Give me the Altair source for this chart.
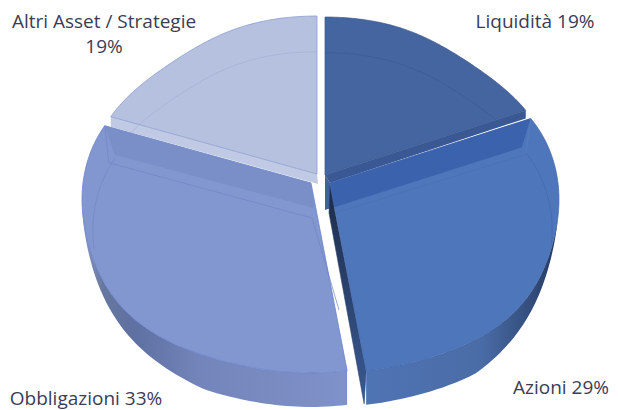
import math
import altair as alt
import pandas as pd

categories = ["Liquidità", "Azioni", "Obbligazioni", "Altri Asset / Strategie"]
shares = [18.6, 29.1, 32.9, 19.4]

# view geometry (derived drawing settings, not chart values)
RX, RY, P = 228.0, 172.5, 0.092
APEX = {"Liquidità": (325, 175), "Azioni": (330, 183), "Obbligazioni": (311, 183), "Altri Asset / Strategie": (317, 174)}
DEPTH = 34
XS = alt.Scale(domain=[8, 610])
YS = alt.Scale(domain=[410, 8])

bounds = {}
acc = 0.0
for c, s in zip(categories, shares):
    bounds[c] = (acc * 3.6, (acc + s) * 3.6)
    acc += s


def rim(apex, deg, k=1.0, dx=0.0, dy=0.0):
    a = math.radians(deg)
    d = 1 + P * math.cos(a)
    sign = 1 if math.cos(a) > 0 else -1
    m = 1 - 0.033 * sign * math.sin(2 * a) ** 4
    return (apex[0] + m * k * RX * math.sin(a) / d + dx, apex[1] - m * k * RY * math.cos(a) / d + dy)


def arc(apex, a0, a1, k=1.0, dx=0.0, dy=0.0, n=80):
    return [rim(apex, a0 + (a1 - a0) * i / n, k, dx, dy) for i in range(n + 1)]


def side(apex, a0, a1, fade_deg, span, n=80):
    """Outer wall of a wedge: the rim and the same rim lowered, thinning towards fade_deg."""
    angles = [a0 + (a1 - a0) * i / n for i in range(n + 1)]
    upper = [rim(apex, a) for a in angles]
    lower = []
    for a in reversed(angles):
        x, y = rim(apex, a)
        lower.append((x, y + DEPTH * min(1.0, abs(a - fade_deg) / span)))
    return upper + lower


layers = []


def shape(points, fill=None, stroke=None, sw=0.8, opacity=1.0):
    pts = list(points)
    if fill is not None:
        pts = pts + [pts[0]]
    df = pd.DataFrame([{"x": p[0], "y": p[1], "i": i} for i, p in enumerate(pts)])
    kw = {"strokeWidth": sw, "clip": False, "opacity": opacity, "interpolate": "linear"}
    kw["stroke"] = stroke if stroke else "transparent"
    if fill is not None:
        kw["fill"] = fill
    layers.append(
        alt.Chart(df).mark_line(**kw).encode(
            x=alt.X("x:Q", scale=XS, axis=None),
            y=alt.Y("y:Q", scale=YS, axis=None),
            order="i:Q",
        )
    )


def grad(stops, x2=1, y2=0):
    return alt.Gradient(
        gradient="linear", x1=0, y1=0, x2=x2, y2=y2,
        stops=[alt.GradientStop(offset=o, color=c) for o, c in stops],
    )


LQ, AZ, OB, AL = categories

# Altri Asset / Strategie
ap = APEX[AL]
a0, a1 = bounds[AL]
c0 = rim(ap, a0)
shape([ap, c0, (c0[0], c0[1] + 10), (ap[0] + 1, ap[1] + 10)], fill="#c0cae4")
shape([ap] + arc(ap, a0, a1), fill="#b6c1df", stroke="#8d9dd0", sw=0.8)
shape(arc(ap, a0 + 6, a1, 0.97, 0, 31), stroke="#a3b0d6", sw=0.7)

# Liquidità
ap = APEX[LQ]
a0, a1 = bounds[LQ]
c1 = rim(ap, a1)
shape([ap, (ap[0], ap[1] + 35), (ap[0] + 12, ap[1] + 31), (ap[0] + 5, ap[1] + 8)], fill="#41619c")
shape([ap, c1, (c1[0], c1[1] + 8), (ap[0] + 5, ap[1] + 8)], fill="#3a5994")
shape([ap] + arc(ap, a0, a1), fill="#44659f", stroke="#3a5790", sw=0.7)
shape(arc(ap, a0, a1 - 9, 0.97, 0, 31), stroke="#3b5a96", sw=0.7)

# Obbligazioni
ap = APEX[OB]
a0, a1 = bounds[OB]
shape(side(ap, a0, 265, 265, 60),
      fill=grad([(0, "#8b9acb"), (0.08, "#66779f"), (0.2, "#5f70a2"), (0.45, "#7385ba"), (1, "#7f92c9")]))
shape([ap] + arc(ap, a0, a1), fill="#8296d0", stroke="#6a84cb", sw=0.8)
c1 = rim(ap, a1)
shape([c1, ap, (ap[0] + 3, ap[1] + 25), (c1[0] + 10, c1[1] + 29)], fill="#7a8ec8")
shape([(c1[0] + 4, c1[1] + 37), (ap[0] + 1, ap[1] + 35), (ap[0] + 28, ap[1] + 127)], stroke="#7087c6", sw=0.7)
shape(arc(ap, a1, 258, 0.97, 4, 31, n=40), stroke="#7087c6", sw=0.7)
shape([c1, (c1[0] + 4, c1[1] + 37)], stroke="#7087c6", sw=0.7)

# Azioni
ap = APEX[AZ]
a0, a1 = bounds[AZ]
e = rim(ap, a1)
shape([(ap[0], ap[1] + 3), e, (e[0] - 2, e[1] + 33), (ap[0] - 1, ap[1] + 30)],
      fill=grad([(0, "#1d2b4a"), (0.5, "#2c436e"), (1, "#3a5a94")], x2=0, y2=1), stroke="#2c436e", sw=0.6)
shape(side(ap, a1, 100, 100, 45),
      fill=grad([(0, "#4f74b4"), (0.6, "#4a6ca6"), (0.88, "#314a78"), (1, "#25395f")]))
shape([ap] + arc(ap, a0, a1), fill="#4e76bb", stroke="#4468ab", sw=0.7)
c0 = rim(ap, a0)
shape([ap, c0, (c0[0] - 9, c0[1] + 29), (ap[0] + 5, ap[1] + 24)], fill="#3b62ad")
shape([(ap[0] + 5, ap[1] + 30), (c0[0] - 5, c0[1] + 36)], stroke="#4a70b4", sw=0.7)
shape(arc(ap, a0, 100, 0.97, 0, 31, n=40), stroke="#4468ab", sw=0.7)
shape([c0, (c0[0] - 5, c0[1] + 36)], stroke="#5a7fc0", sw=0.7)

# Labels
pct = {c: f"{round(s)}%" for c, s in zip(categories, shares)}
labels = pd.DataFrame([
    {"t": f"{LQ} {pct[LQ]}", "x": 535, "y": 22},
    {"t": f"{AZ} {pct[AZ]}", "x": 561, "y": 388},
    {"t": f"{OB} {pct[OB]}", "x": 86, "y": 399},
    {"t": AL, "x": 104, "y": 22},
    {"t": pct[AL], "x": 104, "y": 47},
])
layers.append(
    alt.Chart(labels).mark_text(font="Open Sans", fontSize=19, color="#3a3d55", align="center", baseline="middle", clip=False).encode(
        x=alt.X("x:Q", scale=XS, axis=None),
        y=alt.Y("y:Q", scale=YS, axis=None),
        text="t:N",
    )
)

chart = alt.layer(*layers).properties(width=602, height=402, padding=0, background="white").configure_view(stroke=None)
chart.save("out.html", embed_options={"renderer": "svg", "actions": False})
